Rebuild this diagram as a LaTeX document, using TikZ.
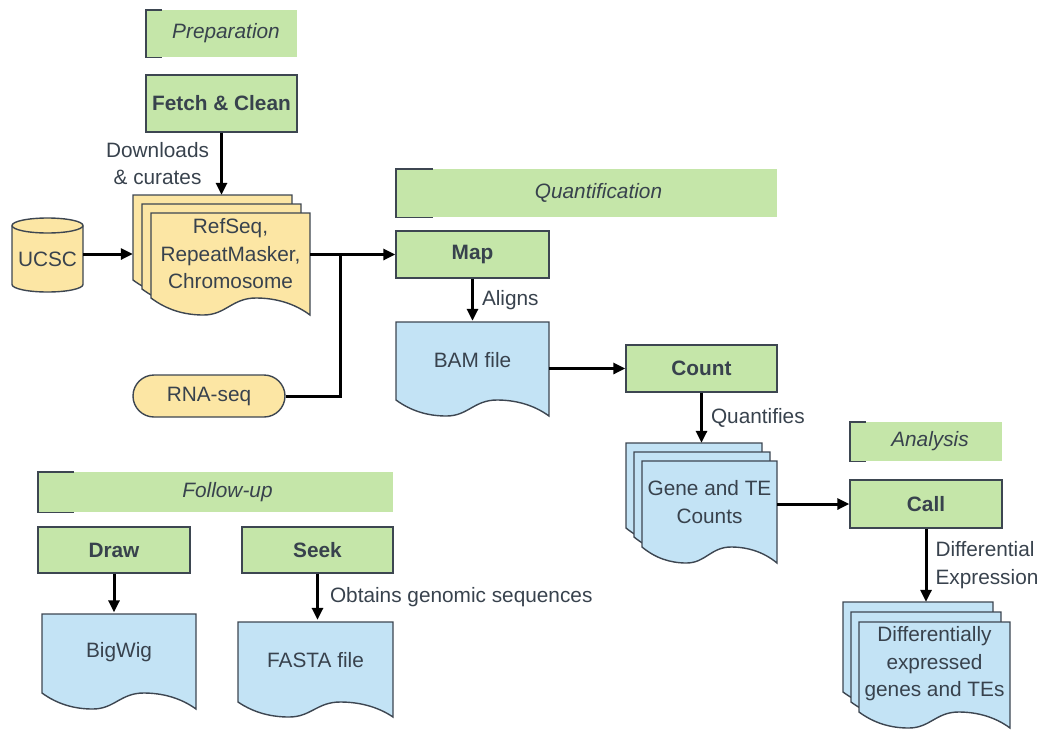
\documentclass[tikz,border=0pt]{standalone}
\usepackage{fontspec}
\setmainfont{Liberation Sans}
\usetikzlibrary{arrows.meta}
\definecolor{grn}{HTML}{C5E6A9}
\definecolor{yel}{HTML}{FCE6A4}
\definecolor{blu}{HTML}{C3E3F5}
\definecolor{edge}{HTML}{3D4651}
\definecolor{txt}{HTML}{38424D}

% #1 colour, #2 x0, #3 ytop, #4 width, #5 height (to left bottom), #6 wave depth
\newcommand{\docsheet}[6]{%
  \path[sheet, fill=#1] (#2,#3) -- ({#2+#4},#3) -- ({#2+#4},{#3+#5+#6})
    .. controls +({-0.1*#4},{-0.7*#6}) and +({0.12*#4},0) .. ({#2+0.66*#4},{#3+#5})
    .. controls +({-0.15*#4},0) and +({0.14*#4},0) .. ({#2+0.33*#4},{#3+#5+#6})
    .. controls +({-0.12*#4},0) and +({0.1*#4},{0.7*#6}) .. (#2,{#3+#5}) -- cycle;}

\begin{document}
\begin{tikzpicture}[x=1pt,y=-1pt,
  every node/.style={text=txt},
  base/.style={font=\fontsize{20.8}{27.5}\selectfont},
  header/.style={base, fill=grn, inner sep=0pt, font=\fontsize{20.8}{27.5}\selectfont\itshape},
  proc/.style={base, draw=edge, fill=grn, line width=1.4pt, inner sep=0pt, font=\fontsize{20.8}{27.5}\selectfont\bfseries},
  bracketline/.style={draw=edge, line width=1.4pt},
  sheet/.style={draw=edge, line width=1.4pt},
  doclabel/.style={base, inner sep=0pt, align=center},
  ghost/.style={inner sep=0pt},
  arr/.style={line width=3pt, -{Triangle[length=12pt,width=11pt]}},
  conn/.style={line width=3pt},
  lab/.style={base, inner sep=8pt, align=left},
  labl/.style={base, inner sep=11pt, align=center}]

\useasboundingbox (0,0) rectangle (1041,729);

% ---------- headers ----------
\node[header, minimum width=151pt, minimum height=47pt] (prep) at (221.5,33.5) {\hspace*{9pt}Preparation};
\draw[bracketline] ([xshift=16pt]prep.north west) -- (prep.north west) -- (prep.south west) -- ([xshift=16pt]prep.south west);

\node[header, minimum width=381pt, minimum height=48pt] (quant) at (586.5,193) {\hspace*{24pt}Quantification};
\draw[bracketline] ([xshift=37pt]quant.north west) -- (quant.north west) -- (quant.south west) -- ([xshift=37pt]quant.south west);

\node[header, minimum width=152pt, minimum height=39pt] (analysis) at (926,441.5) {\hspace*{8pt}Analysis};
\draw[bracketline] ([xshift=16pt]analysis.north west) -- (analysis.north west) -- (analysis.south west) -- ([xshift=16pt]analysis.south west);

\node[header, minimum width=355pt, minimum height=40pt] (follow) at (215.5,492) {\hspace*{24pt}Follow-up};
\draw[bracketline] ([xshift=36pt]follow.north west) -- (follow.north west) -- (follow.south west) -- ([xshift=36pt]follow.south west);

% ---------- process boxes ----------
\node[proc, minimum width=151pt, minimum height=57pt] (fetch) at (221.5,103.5) {Fetch \& Clean};
\node[proc, minimum width=153pt, minimum height=47pt] (map) at (472.5,254.5) {Map};
\node[proc, minimum width=151pt, minimum height=47pt] (count) at (701.5,368.5) {Count};
\node[proc, minimum width=152pt, minimum height=48pt] (call) at (926,504) {Call};
\node[proc, minimum width=152pt, minimum height=46pt] (drawbox) at (114,550) {Draw};
\node[proc, minimum width=151pt, minimum height=46pt] (seek) at (317.5,550) {Seek};

% ---------- UCSC cylinder ----------
\path[sheet, fill=yel] (12,225.5) -- (12,284.5) arc (180:360:35.5pt and 7.5pt) -- (83,225.5) arc (0:180:35.5pt and 7.5pt) -- cycle;
\draw[sheet] (12,225.5) arc (180:360:35.5pt and 7.5pt);
\node[doclabel, minimum width=71pt, minimum height=74pt] (ucsc) at (47.5,259) {UCSC};

% ---------- RNA-seq ----------
\node[base, draw=edge, fill=yel, line width=1.4pt, rounded corners=21pt, minimum width=152pt, minimum height=42pt, inner sep=0pt] (rna) at (209,396) {RNA-seq};

% ---------- RefSeq stack ----------
\docsheet{yel}{133}{195}{159}{85}{17}
\docsheet{yel}{142}{204}{159}{85}{17}
\docsheet{yel}{151}{213}{159}{85}{17}
\node[ghost, minimum width=159pt, minimum height=85pt] (refback) at (212.5,237.5) {};
\node[doclabel, minimum width=159pt, minimum height=85pt] (refseq) at (230.5,254) {RefSeq,\\RepeatMasker,\\Chromosome};

% ---------- BAM ----------
\docsheet{blu}{396}{322}{153}{78}{16}
\node[doclabel, minimum width=153pt, minimum height=78pt] (bam) at (472.5,360) {BAM file};

% ---------- Gene and TE counts stack ----------
\docsheet{blu}{626}{443}{136}{85}{16}
\docsheet{blu}{634}{452}{136}{85}{16}
\docsheet{blu}{642}{461}{135}{86}{16}
\node[ghost, minimum width=136pt, minimum height=85pt] (geneback) at (694,485.5) {};
\node[doclabel, minimum width=135pt, minimum height=86pt] (gene) at (709.5,502) {Gene and TE\\Counts};

% ---------- DE stack ----------
\docsheet{blu}{843}{602}{150}{90}{16}
\docsheet{blu}{851}{612}{150}{90}{16}
\docsheet{blu}{859}{622}{151}{90}{16}
\node[ghost, minimum width=150pt, minimum height=90pt] (deback) at (918,647) {};
\node[doclabel, minimum width=151pt, minimum height=90pt] (de) at (934.5,664) {Differentially\\expressed\\genes and TEs};

% ---------- BigWig / FASTA ----------
\docsheet{blu}{42}{614}{154}{79}{16}
\node[doclabel, minimum width=154pt, minimum height=79pt] (bigwig) at (119,652) {BigWig};
\docsheet{blu}{238}{622}{155}{80}{15}
\node[doclabel, minimum width=155pt, minimum height=80pt] (fasta) at (315.5,660) {FASTA file};

% ---------- connectors ----------
\draw[arr] (fetch.south) -- node[labl, left] {Downloads\\\& curates} (fetch.south |- refback.north);
\draw[arr] (ucsc.east |- refseq.east) -- (refseq.east -| refback.west);
\coordinate (junc) at (340,254.5);
\draw[arr] (refseq.east |- map.west) -- (map.west);
\draw[conn] (rna.east) -| (junc);
\draw[arr] (map.south) -- node[lab, right] {Aligns} (map.south |- bam.north);
\draw[arr] (bam.east |- count.west) -- (count.west);
\draw[arr] (count.south) -- node[lab, right] {Quantifies} (count.south |- geneback.north);
\draw[arr] (gene.east |- call.west) -- (call.west);
\draw[arr] (call.south) -- node[lab, right] {Differential\\Expression} (call.south |- deback.north);
\draw[arr] (drawbox.south) -- (drawbox.south |- bigwig.north);
\draw[arr] (seek.south) -- node[lab, right, xshift=3pt] {Obtains genomic sequences} (seek.south |- fasta.north);

\end{tikzpicture}
\end{document}
